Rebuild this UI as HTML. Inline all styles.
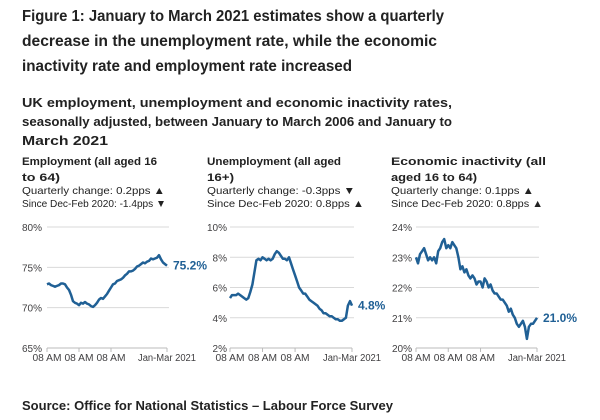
<!DOCTYPE html>
<html><head><meta charset="utf-8"><style>
html,body{margin:0;padding:0;background:#fff;}
svg{display:block;font-family:"Liberation Sans",sans-serif;}
.t{font-weight:bold;fill:#222;}
.s{fill:#222;}
.ax{fill:#414042;font-size:10px;}
</style></head><body>
<svg id="chart" width="600" height="420" viewBox="0 0 600 420">
<g lengthAdjust="spacingAndGlyphs">
<text class="t" x="22" y="21" font-size="16" textLength="422" lengthAdjust="spacingAndGlyphs">Figure 1: January to March 2021 estimates show a quarterly</text>
<text class="t" x="22" y="46" font-size="16" textLength="415" lengthAdjust="spacingAndGlyphs">decrease in the unemployment rate, while the economic</text>
<text class="t" x="22" y="71" font-size="16" textLength="330" lengthAdjust="spacingAndGlyphs">inactivity rate and employment rate increased</text>
<text class="t" x="22" y="107" font-size="13" textLength="430" lengthAdjust="spacingAndGlyphs">UK employment, unemployment and economic inactivity rates,</text>
<text class="t" x="22" y="126" font-size="13" textLength="430" lengthAdjust="spacingAndGlyphs">seasonally adjusted, between January to March 2006 and January to</text>
<text class="t" x="22" y="145" font-size="13" textLength="86" lengthAdjust="spacingAndGlyphs">March 2021</text>
</g>
<g>
<text class="t" x="22" y="165" font-size="11" textLength="135" lengthAdjust="spacingAndGlyphs">Employment (all aged 16</text>
<text class="t" x="22" y="181" font-size="11" textLength="38" lengthAdjust="spacingAndGlyphs">to 64)</text>
<text class="s" x="22" y="194" font-size="10.5" textLength="143" lengthAdjust="spacingAndGlyphs">Quarterly change: 0.2pps ▲</text>
<text class="s" x="22" y="207" font-size="10.5" textLength="144" lengthAdjust="spacingAndGlyphs">Since Dec-Feb 2020: -1.4pps ▼</text>
</g>
<g>
<text class="t" x="207" y="165" font-size="11" textLength="134" lengthAdjust="spacingAndGlyphs">Unemployment (all aged</text>
<text class="t" x="207" y="181" font-size="11" textLength="27" lengthAdjust="spacingAndGlyphs">16+)</text>
<text class="s" x="207" y="194" font-size="10.5" textLength="148" lengthAdjust="spacingAndGlyphs">Quarterly change: -0.3pps ▼</text>
<text class="s" x="207" y="207" font-size="10.5" textLength="157" lengthAdjust="spacingAndGlyphs">Since Dec-Feb 2020: 0.8pps ▲</text>
</g>
<g>
<text class="t" x="391" y="165" font-size="11" textLength="155" lengthAdjust="spacingAndGlyphs">Economic inactivity (all</text>
<text class="t" x="391" y="181" font-size="11" textLength="86" lengthAdjust="spacingAndGlyphs">aged 16 to 64)</text>
<text class="s" x="391" y="194" font-size="10.5" textLength="143" lengthAdjust="spacingAndGlyphs">Quarterly change: 0.1pps ▲</text>
<text class="s" x="391" y="207" font-size="10.5" textLength="152" lengthAdjust="spacingAndGlyphs">Since Dec-Feb 2020: 0.8pps ▲</text>
</g>
<g id="panels"></g>
<text class="t" x="22" y="410" font-size="13" textLength="371" lengthAdjust="spacingAndGlyphs">Source: Office for National Statistics – Labour Force Survey</text>
</svg>
<script>
const xTickLabels = ["08 AM","08 AM","08 AM","Jan-Mar 2021"];
const xTickIndex = [0,16,32,60];
const employment = [72.9,73.0,72.8,72.7, 72.6,72.7,72.8,73.0, 73.0,72.9,72.5,72.2, 71.6,70.8,70.6,70.5, 70.3,70.6,70.5,70.7, 70.5,70.4,70.2,70.1, 70.3,70.6,71.0,71.2, 71.1,71.4,71.7,72.1, 72.5,72.9,73.0,73.3, 73.4,73.5,73.7,74.0, 74.2,74.5,74.5,74.6, 74.8,75.1,75.2,75.4, 75.6,75.5,75.7,75.8, 76.1,76.0,76.1,76.2, 76.5,76.0,75.6,75.4, 75.2];
const unemployment = [5.3,5.5,5.5,5.5, 5.6,5.5,5.4,5.3, 5.2,5.3,5.7,6.2, 7.0,7.8,7.9,7.8, 8.0,7.9,7.8,7.9, 7.8,7.9,8.2,8.4, 8.3,8.1,7.9,7.9, 7.8,8.0,7.6,7.2, 6.8,6.4,6.0,5.8, 5.6,5.6,5.4,5.2, 5.1,5.0,4.9,4.8, 4.6,4.5,4.3,4.3, 4.2,4.1,4.1,4.0, 3.9,3.9,3.8,3.8, 3.9,4.0,4.8,5.1, 4.8];
const inactivity = [23.0,22.8,23.1,23.2, 23.3,23.1,22.9,23.0, 22.9,23.0,22.8,23.2, 23.3,23.5,23.6,23.3, 23.4,23.3,23.5,23.4, 23.3,23.0,22.6,22.7, 22.5,22.6,22.4,22.3, 22.4,22.3,22.1,22.2, 22.2,22.0,22.3,22.2, 22.0,22.1,21.9,21.8, 21.8,21.7,21.6,21.6, 21.5,21.4,21.2,21.3, 21.1,21.0,20.8,20.7, 20.8,20.9,20.7,20.3, 20.7,20.8,20.8,20.9, 21.0];
const empTicks = [65,70,75,80];
const unempTicks = [2,4,6,8,10];
const inactTicks = [20,21,22,23,24];
const endLabels = ["75.2%","4.8%","21.0%"];

const NS="http://www.w3.org/2000/svg";
const root=document.getElementById('panels');
function mk(tag,attrs,parent){const e=document.createElementNS(NS,tag);for(const k in attrs)e.setAttribute(k,attrs[k]);parent.appendChild(e);return e;}
function panel(name,values,ticks,x0,x1,labelX,endLabel){
  const g=mk('g',{},root);
  
  
  const yTop=227,yBot=348,min=ticks[0],max=ticks[ticks.length-1];
  const y=v=>yBot-(v-min)/(max-min)*(yBot-yTop);
  const x=i=>x0+i/(values.length-1)*(x1-x0);
  ticks.forEach((t,k)=>{
    if(k>0){const gl=mk('line',{x1:x0,x2:x1+2,y1:y(t),y2:y(t),stroke:'#d9d9d9','stroke-width':1},g);
    
    }
    const tl=mk('text',{x:labelX,y:y(t)+4,'text-anchor':'end',class:'ax'},g);
    tl.textContent=t+'%';
    
    
  });
  const axis=mk('line',{x1:x0,x2:x1,y1:yBot,y2:yBot,stroke:'#bbb','stroke-width':1},g);
  
  
  xTickIndex.forEach((ti,k)=>{
    mk('line',{x1:x(ti),x2:x(ti),y1:yBot,y2:yBot+4,stroke:'#bbb'},g);
    const last=k===xTickLabels.length-1;
    const tl=mk('text',{x:x(ti),y:yBot+13,'text-anchor':'middle',class:'ax',textLength:last?58:29,lengthAdjust:'spacingAndGlyphs'},g);
    tl.textContent=xTickLabels[k];
    
    
  });
  const d=values.map((v,i)=>(i?'L':'M')+x(i).toFixed(1)+' '+y(v).toFixed(1)).join(' ');
  const p=mk('path',{d:d,fill:'none',stroke:'#206095','stroke-width':2.5,'stroke-linejoin':'round'},g);
  
  
  const lab=mk('text',{x:x1+6,y:y(values[values.length-1])+4,fill:'#206095','font-size':'12','font-weight':'bold'},g);
  lab.textContent=endLabel;
  
  
}
panel('employment',employment,empTicks,47,167,42,endLabels[0]);
panel('unemployment',unemployment,unempTicks,230,352,227,endLabels[1]);
panel('inactivity',inactivity,inactTicks,416,537,412,endLabels[2]);
</script>
</body></html>
